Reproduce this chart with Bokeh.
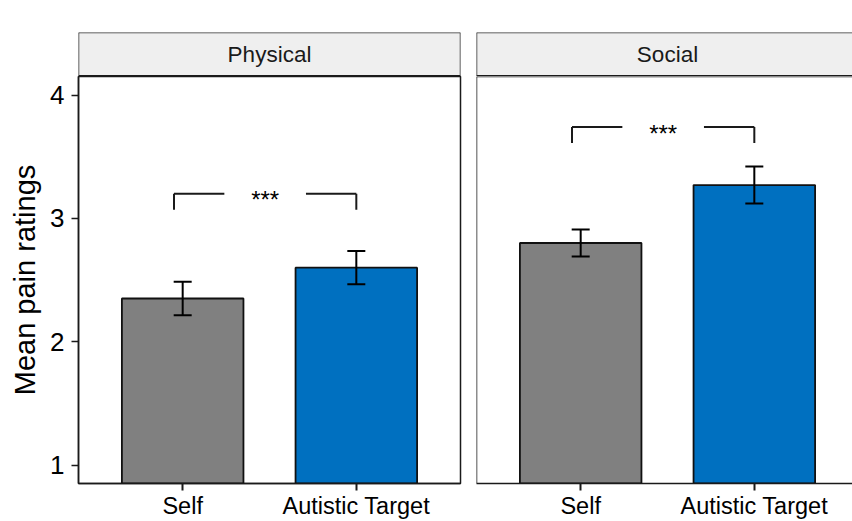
from bokeh.plotting import figure
from bokeh.layouts import column, row
from bokeh.models import ColumnDataSource, Range1d, FixedTicker, Whisker, TeeHead, Span
from bokeh.embed import file_html
from bokeh.resources import INLINE
from bokeh.core.properties import value

# ---- data -------------------------------------------------------------
categories = ["Self", "Autistic Target"]
panel_names = ["Physical", "Social"]
physical_mean = [2.35, 2.60]
physical_se = [0.135, 0.135]
social_mean = [2.80, 3.27]
social_se = [0.11, 0.15]
sig_labels = ["***", "***"]
sig_heights = [3.20, 3.74]
y_ticks = [1, 2, 3, 4]

# ---- style ------------------------------------------------------------
FONT = "Liberation Sans"
bar_colors = ["#808080", "#0070C0"]
strip_fill = "#EFEFEF"
bar_width = 0.7
tip_length = 0.13
bracket_left_shift = 0.05
label_gap = 0.235

x_pos = [i + 1 for i in range(len(categories))]
x_pad = 0.6
x_start, x_end = x_pos[0] - x_pad, x_pos[-1] + x_pad
y_start, y_end = 0.85, 4.15

panel_px = 382
fig_widths = [468, 384]
borders = [(78, 8), (8, 0)]
strip_h, strip_top = 76, 32
panel_h, panel_bottom = 445, 38


def make_panel(idx, means, ses):
    name = panel_names[idx]
    first = idx == 0
    fw = fig_widths[idx]
    bl, br = borders[idx]
    frame_w = fw - bl - br
    xr = Range1d(x_start, x_start + (x_end - x_start) * frame_w / panel_px)
    yr = Range1d(y_start, y_end)

    # facet strip
    strip = figure(width=fw, height=strip_h, x_range=xr, y_range=Range1d(0, 1),
                   output_backend="svg", toolbar_location=None,
                   x_axis_location=None, y_axis_location=None,
                   min_border_left=bl, min_border_right=br,
                   min_border_top=strip_top, min_border_bottom=0)
    strip.grid.visible = False
    strip.background_fill_color = strip_fill
    strip.border_fill_color = "white"
    strip.outline_line_color = None
    strip.text(x=[(x_pos[0] + x_pos[-1]) / 2], y=[0.5], text=[name],
               text_font=value(FONT), text_font_size="22.5px",
               text_align="center", text_baseline="middle", text_color="#1A1A1A")
    strip.add_layout(Span(location=1, dimension="width", line_color="#333333", line_width=1.3))
    strip.add_layout(Span(location=0, dimension="width", line_color="#1A1A1A", line_width=3))
    strip.add_layout(Span(location=xr.start, dimension="height", line_color="#333333", line_width=1.5))
    if first:
        strip.add_layout(Span(location=xr.end, dimension="height", line_color="#333333", line_width=1.5))

    # panel
    p = figure(width=fw, height=panel_h, x_range=xr, y_range=yr,
               output_backend="svg", toolbar_location=None,
               y_axis_location="left" if first else None,
               min_border_left=bl, min_border_right=br,
               min_border_top=0, min_border_bottom=panel_bottom)
    p.grid.visible = False
    p.background_fill_color = "white"
    p.border_fill_color = "white"
    if first:
        p.outline_line_color = "#1A1A1A"
        p.outline_line_width = 1.5
    else:
        p.outline_line_color = None
        p.add_layout(Span(location=xr.start, dimension="height", line_color="#1A1A1A", line_width=1.5))
        p.add_layout(Span(location=y_end, dimension="width", line_color="#1A1A1A", line_width=1.5))

    src = ColumnDataSource(dict(
        x=x_pos, top=means,
        lower=[m - s for m, s in zip(means, ses)],
        upper=[m + s for m, s in zip(means, ses)],
        color=bar_colors,
    ))
    p.vbar(x="x", top="top", bottom=0, width=bar_width, source=src,
           fill_color="color", line_color="#111111", line_width=1.8)
    p.add_layout(Whisker(base="x", upper="upper", lower="lower", source=src,
                         level="overlay", line_color="black", line_width=2,
                         upper_head=TeeHead(size=18, line_color="black", line_width=2),
                         lower_head=TeeHead(size=18, line_color="black", line_width=2)))

    # significance bracket
    sy = sig_heights[idx]
    lx = x_pos[0] - bracket_left_shift
    rx = x_pos[1]
    mid = (lx + rx) / 2
    p.segment(x0=[lx, lx, mid + label_gap, rx],
              y0=[sy - tip_length, sy, sy, sy],
              x1=[lx, mid - label_gap, rx, rx],
              y1=[sy, sy, sy, sy - tip_length],
              line_color="#1A1A1A", line_width=2)
    p.text(x=[mid], y=[sy], text=[sig_labels[idx]], text_font=value(FONT),
           text_font_size="24px", text_align="center", text_baseline="middle",
           text_color="black", y_offset=6)

    # x axis
    xa = p.xaxis[0]
    xa.ticker = FixedTicker(ticks=x_pos, minor_ticks=[])
    xa.major_label_overrides = {float(x): c for x, c in zip(x_pos, categories)}
    xa.axis_line_color = "#1A1A1A"
    xa.axis_line_width = 1.5
    xa.major_tick_out = 7
    xa.major_tick_in = 0
    xa.major_tick_line_width = 2
    xa.major_tick_line_color = "#1A1A1A"
    xa.minor_tick_line_color = None
    xa.major_label_text_font = FONT
    xa.major_label_text_font_size = "23.5px"
    xa.major_label_text_color = "black"
    xa.major_label_standoff = 2

    if first:
        ya = p.yaxis[0]
        ya.ticker = FixedTicker(ticks=y_ticks, minor_ticks=[])
        ya.axis_line_color = "#1A1A1A"
        ya.axis_line_width = 1.5
        ya.major_tick_out = 7
        ya.major_tick_in = 0
        ya.major_tick_line_width = 1.5
        ya.major_tick_line_color = "#1A1A1A"
        ya.minor_tick_line_color = None
        ya.major_label_text_font = FONT
        ya.major_label_text_font_size = "26px"
        ya.major_label_text_color = "black"
        ya.major_label_standoff = 7
        ya.axis_label = "Mean pain ratings"
        ya.axis_label_text_font = FONT
        ya.axis_label_text_font_size = "29px"
        ya.axis_label_text_font_style = "normal"
        ya.axis_label_text_color = "black"
        ya.axis_label_standoff = 6

    return strip, p


s1, p1 = make_panel(0, physical_mean, physical_se)
s2, p2 = make_panel(1, social_mean, social_se)

layout = column(row(s1, s2), row(p1, p2))

with open("out.html", "w") as f:
    f.write(file_html(layout, INLINE))
